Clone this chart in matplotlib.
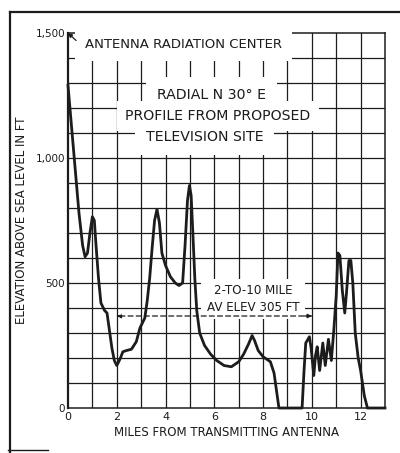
import matplotlib
matplotlib.use("Agg")
import matplotlib.pyplot as plt
from matplotlib.lines import Line2D

# ---- data ----
miles = [0.0, 0.15, 0.3, 0.45, 0.6, 0.7, 0.8, 0.9, 1.0, 1.08, 1.15, 1.25, 1.35, 1.5,
         1.6, 1.7, 1.8, 1.9, 2.0, 2.08, 2.15, 2.25, 2.4, 2.6, 2.8, 2.95, 3.05, 3.15,
         3.25, 3.35, 3.45, 3.55, 3.65, 3.75, 3.85, 4.0, 4.2, 4.4, 4.55, 4.7, 4.8, 4.9,
         4.98, 5.05, 5.12, 5.2, 5.28, 5.4, 5.6, 5.85, 6.1, 6.4, 6.7, 7.0, 7.2, 7.4,
         7.55, 7.65, 7.8, 8.0, 8.3, 8.45, 8.55, 8.65, 9.6, 9.68, 9.75, 9.9, 9.97,
         10.08, 10.15, 10.22, 10.32, 10.45, 10.55, 10.68, 10.8, 10.9, 11.0, 11.07,
         11.15, 11.25, 11.35, 11.42, 11.52, 11.6, 11.68, 11.78, 11.9, 12.0, 12.15,
         12.28, 13.0]
elev_ft = [1290, 1120, 950, 780, 650, 605, 620, 700, 765, 750, 650, 520, 420, 390,
           380, 310, 240, 190, 170, 185, 200, 225, 230, 235, 265, 320, 340, 360,
           430, 520, 640, 750, 795, 740, 620, 570, 525, 500, 490, 500, 650, 830,
           890, 850, 700, 520, 390, 300, 250, 215, 190, 170, 165, 185, 215, 255,
           290, 270, 230, 205, 185, 140, 70, 0, 0, 150, 260, 285, 240,
           130, 210, 245, 150, 260, 170, 275, 190, 310, 450, 620,
           610, 470, 380, 460, 590, 590, 500, 300, 200, 150, 50,
           0, 0]

x_ticks = [0, 2, 4, 6, 8, 10, 12]
y_ticks = [0, 500, 1000, 1500]
y_tick_labels = ["0", "500", "1,000", "1,500"]
avg_span = [2, 10]
avg_level = 368

INK = "#1c1c1c"

fig = plt.figure(figsize=(4.0, 4.53), dpi=100)
ax = fig.add_axes([0.17, 0.0993, 0.7925, 0.8279])
ax.set_xlim(0, 13)
ax.set_ylim(0, 1500)

# grid
for gx in range(1, 13):
    ax.axvline(gx, color=INK, lw=0.9, zorder=1)
for gy in range(100, 1500, 100):
    ax.axhline(gy, color=INK, lw=0.9, zorder=1)

for s in ax.spines.values():
    s.set_color(INK)
    s.set_linewidth(1.1)
ax.spines["left"].set_linewidth(1.6)

ax.plot(miles, elev_ft, color=INK, lw=2.0, zorder=4, clip_on=False,
        solid_joinstyle="round")

ax.set_xticks(x_ticks)
ax.set_yticks(y_ticks)
ax.set_yticklabels(y_tick_labels)
ax.tick_params(length=0, labelsize=7.5, colors=INK, pad=2)
ax.tick_params(axis="x", labelsize=8, pad=3)
ax.set_xlabel("MILES FROM TRANSMITTING ANTENNA", fontsize=8.5, color=INK, labelpad=3)

fig.text(0.055, 0.514, "ELEVATION ABOVE SEA LEVEL IN FT", rotation=90,
         ha="center", va="center", fontsize=8.5, color=INK)


def masked_text(x, y, s, size, pad, **kw):
    """White mask behind the text (below the ink), then the text itself."""
    ax.text(x, y, s, fontsize=size, color="none", zorder=3,
            bbox=dict(facecolor="white", edgecolor="none", pad=pad), **kw)
    ax.text(x, y, s, fontsize=size, color=INK, zorder=6, **kw)


# antenna radiation center label with pointer to the top-left corner
masked_text(0.7, 1452, "ANTENNA RADIATION CENTER", 9.5, 7, ha="left", va="center")
ax.annotate("", xy=(0, 1500), xytext=(0.33, 1470), zorder=6,
            arrowprops=dict(arrowstyle="-|>", color=INK, lw=0.9,
                            mutation_scale=6, shrinkA=0, shrinkB=0))

masked_text(5.9, 1252, "RADIAL N 30° E", 10.2, 8, ha="center", va="center")
masked_text(6.15, 1168, "PROFILE FROM PROPOSED", 10.2, 6, ha="center", va="center")
masked_text(5.6, 1084, "TELEVISION SITE", 10.2, 8, ha="center", va="center")

masked_text(7.6, 436, "2-TO-10 MILE\nAV ELEV 305 FT", 8.6, 4, ha="center",
            va="center", linespacing=1.35)

ax.annotate("", xy=(avg_span[0], avg_level), xytext=(avg_span[1], avg_level),
            zorder=5,
            arrowprops=dict(arrowstyle="-|>", color=INK, lw=0.9, ls=(0, (4, 2.5)),
                            mutation_scale=6, shrinkA=0, shrinkB=0))
ax.annotate("", xy=(avg_span[1], avg_level), xytext=(avg_span[1] - 0.3, avg_level),
            zorder=5,
            arrowprops=dict(arrowstyle="-|>", color=INK, lw=0.9,
                            mutation_scale=6, shrinkA=0, shrinkB=0))

# outer frame of the page
fig.add_artist(Line2D([0.025, 1.0], [1 - 12 / 453, 1 - 12 / 453], color=INK, lw=1.6))
fig.add_artist(Line2D([0.025, 0.025], [0.0, 1 - 12 / 453], color=INK, lw=1.6))
fig.add_artist(Line2D([0.02, 0.12], [3 / 453, 3 / 453], color=INK, lw=1.0))

fig.savefig("out.png", dpi=100, facecolor="white")
